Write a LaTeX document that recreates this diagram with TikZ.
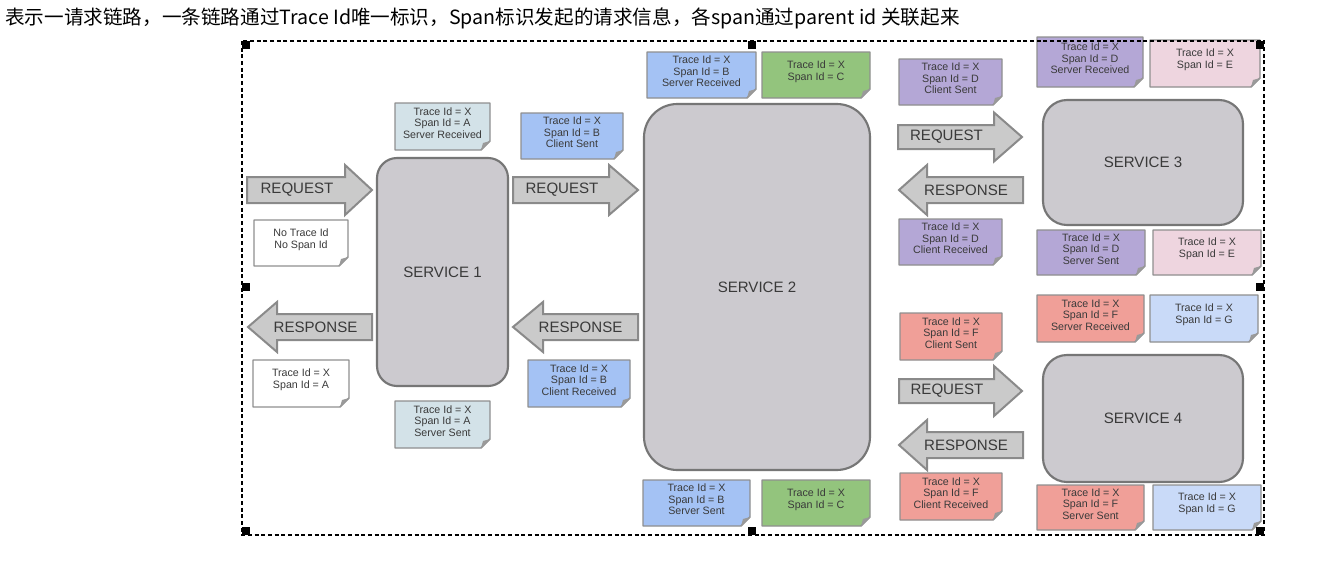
\documentclass[tikz,border=0pt]{standalone}
\usepackage{fontspec}
\setmainfont{Liberation Sans}
\newfontfamily\cjk{Noto Sans CJK SC}
\definecolor{svcfill}{HTML}{CCCACF}
\definecolor{svcline}{HTML}{767676}
\definecolor{arrfill}{HTML}{CACACA}
\definecolor{arrline}{HTML}{8A8A8A}
\definecolor{noteline}{HTML}{8F8F8F}
\definecolor{foldc}{HTML}{9A9A9A}
\definecolor{txtc}{HTML}{3A3A3A}
\definecolor{cA}{HTML}{D3E2E8}
\definecolor{cB}{HTML}{A4C2F4}
\definecolor{cC}{HTML}{93C47D}
\definecolor{cD}{HTML}{B4A7D6}
\definecolor{cE}{HTML}{EED5DF}
\definecolor{cF}{HTML}{F09F98}
\definecolor{cG}{HTML}{C9DAF8}
\newcommand\notebox[7]{%
  \filldraw[fill=#6, draw=noteline, line width=1.1pt, line join=round]
    (#2,#3) -- (#4,#3) -- (#4,#5-9) -- (#4-9,#5) -- (#2,#5) -- cycle;
  \fill[foldc] (#4,#5-9) -- (#4-9,#5) -- (#4-7,#5-7) -- cycle;
  \node[notetext] (#1) at ({(#2+#4)/2},{(#3+#5)/2-3.5}) {#7};
}
\newcommand\reqarrow[7]{% name x1 x2 xh yc sh hh
  \filldraw[blockarrow] (#2,#5-#6) -- (#4,#5-#6) -- (#4,#5-#7) -- (#3,#5)
    -- (#4,#5+#7) -- (#4,#5+#6) -- (#2,#5+#6) -- cycle;
}
\newcommand\resarrow[7]{% name x1(tip) x2 xh yc sh hh
  \filldraw[blockarrow] (#3,#5-#6) -- (#4,#5-#6) -- (#4,#5-#7) -- (#2,#5)
    -- (#4,#5+#7) -- (#4,#5+#6) -- (#3,#5+#6) -- cycle;
}
\begin{document}
\begin{tikzpicture}[x=0.75pt,y=-0.75pt,
  service/.style={draw=svcline, fill=svcfill, line width=1.6pt, inner sep=0pt,
    font=\fontsize{11.3}{13}\selectfont, text=txtc},
  blockarrow/.style={fill=arrfill, draw=arrline, line width=1.5pt, line join=miter},
  arrtext/.style={font=\fontsize{11.3}{13}\selectfont, text=txtc, inner sep=0pt},
  notetext/.style={font=\fontsize{8}{8.7}\selectfont, text=txtc, align=center, inner sep=0pt},
  handle/.style={fill=black}]
\useasboundingbox (0,0) rectangle (1325,564);
\fill[white] (0,0) rectangle (1325,564);

% title
\node[anchor=west, inner sep=0pt, font=\cjk\fontsize{14.7}{16}\selectfont, text=black] (title) at (5,18)
  {表示一请求链路，一条链路通过Trace Id唯一标识，Span标识发起的请求信息，各span通过parent id 关联起来};

% services
\node[service, minimum width=98.25pt, minimum height=171pt, rounded corners=15pt] (s1) at (442.5,272) {SERVICE 1};
\node[service, minimum width=169.5pt, minimum height=274.5pt, rounded corners=25pt] (s2) at (757,287) {SERVICE 2};
\node[service, minimum width=150pt, minimum height=93.75pt, rounded corners=18pt] (s3) at (1143,162.5) {SERVICE 3};
\node[service, minimum width=150pt, minimum height=95.25pt, rounded corners=18pt] (s4) at (1143,418.5) {SERVICE 4};

% block arrows
\reqarrow{rq1}{247}{372}{345}{190}{13}{25}
\node[arrtext] (trq1) at (297,190) {REQUEST};
\reqarrow{rq2}{513}{638}{609}{190}{13}{25}
\node[arrtext] (trq2) at (562,190) {REQUEST};
\resarrow{rs1}{248}{372}{277}{327}{13}{25}
\node[arrtext] (trs1) at (315.5,327) {RESPONSE};
\resarrow{rs2}{513}{638}{543}{327}{13}{25}
\node[arrtext] (trs2) at (580.5,327) {RESPONSE};
\reqarrow{rq3}{898}{1022}{994}{137}{12}{24.5}
\node[arrtext] (trq3) at (946.5,137) {REQUEST};
\resarrow{rs3}{899}{1023}{927}{190}{13}{25}
\node[arrtext] (trs3) at (966,190) {RESPONSE};
\reqarrow{rq4}{899}{1022}{994}{391}{12}{25}
\node[arrtext] (trq4) at (947,391) {REQUEST};
\resarrow{rs4}{899}{1023}{927}{445}{13}{25}
\node[arrtext] (trs4) at (966,445) {RESPONSE};

% notes
\notebox{n1}{395}{103}{490}{150}{cA}{Trace Id = X\\Span Id = A\\Server Received}
\notebox{n2}{521}{113}{623}{159}{cB}{Trace Id = X\\Span Id = B\\Client Sent}
\notebox{n3}{254}{220}{348}{266}{white}{No Trace Id\\No Span Id}
\notebox{n4}{253}{360}{349}{407}{white}{Trace Id = X\\Span Id = A}
\notebox{n5}{395}{401}{490}{448}{cA}{Trace Id = X\\Span Id = A\\Server Sent}
\notebox{n6}{528}{360}{630}{407}{cB}{Trace Id = X\\Span Id = B\\Client Received}
\notebox{n7}{647}{52}{756}{98}{cB}{Trace Id = X\\Span Id = B\\Server Received}
\notebox{n8}{762}{52}{870}{98}{cC}{Trace Id = X\\Span Id = C}
\notebox{n9}{899}{59}{1002}{105}{cD}{Trace Id = X\\Span Id = D\\Client Sent}
\notebox{n10}{899}{219}{1002}{265}{cD}{Trace Id = X\\Span Id = D\\Client Received}
\notebox{n11}{1037}{37}{1143}{87}{cD}{Trace Id = X\\Span Id = D\\Server Received}
\notebox{n12}{1150}{40}{1260}{87}{cE}{Trace Id = X\\Span Id = E}
\notebox{n13}{1037}{230}{1145}{275}{cD}{Trace Id = X\\Span Id = D\\Server Sent}
\notebox{n14}{1153}{230}{1261}{275}{cE}{Trace Id = X\\Span Id = E}
\notebox{n15}{900}{313}{1002}{360}{cF}{Trace Id = X\\Span Id = F\\Client Sent}
\notebox{n16}{900}{473}{1002}{520}{cF}{Trace Id = X\\Span Id = F\\Client Received}
\notebox{n17}{1037}{295}{1144}{342}{cF}{Trace Id = X\\Span Id = F\\Server Received}
\notebox{n18}{1150}{295}{1258}{342}{cG}{Trace Id = X\\Span Id = G}
\notebox{n19}{1037}{485}{1144}{530}{cF}{Trace Id = X\\Span Id = F\\Server Sent}
\notebox{n20}{1153}{485}{1261}{530}{cG}{Trace Id = X\\Span Id = G}
\notebox{n21}{643}{480}{750}{526}{cB}{Trace Id = X\\Span Id = B\\Server Sent}
\notebox{n22}{762}{480}{870}{526}{cC}{Trace Id = X\\Span Id = C}

% selection frame
\draw[black, line width=0.8pt, dash pattern=on 3pt off 2pt] (242,41) rectangle (1264,535);
\fill[handle] (242,41) rectangle (250,49);
\fill[handle] (748,41) rectangle (756,49);
\fill[handle] (1256,41) rectangle (1264,49);
\fill[handle] (242,283) rectangle (250,291);
\fill[handle] (1256,283) rectangle (1264,291);
\fill[handle] (242,527) rectangle (250,535);
\fill[handle] (748,527) rectangle (756,535);
\fill[handle] (1256,527) rectangle (1264,535);
\end{tikzpicture}
\end{document}
